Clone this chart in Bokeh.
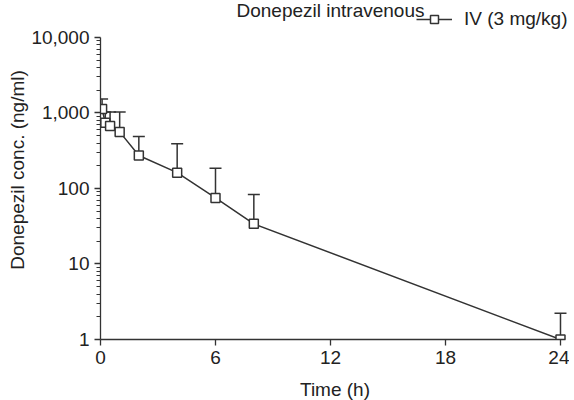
from bokeh.plotting import figure
from bokeh.models import (Range1d, FixedTicker, NumeralTickFormatter, Whisker,
                          TeeHead, ColumnDataSource, Label)
from bokeh.embed import file_html
from bokeh.resources import INLINE

# ---- data ----
time_h = [0.083, 0.25, 0.5, 1, 2, 4, 6, 8, 24]
conc_mean = [1130, 740, 675, 562, 274, 162, 75, 34, 1.0]
conc_upper = [1530, 1030, 1030, 1030, 488, 391, 185, 83, 2.22]
series_label = "IV (3 mg/kg)"
title_text = "Donepezil intravenous"
x_ticks = [0, 6, 12, 18, 24]
y_ticks = [1, 10, 100, 1000, 10000]
y_minor = [m * 10 ** k for k in range(4) for m in range(2, 10)]

FONT = "Liberation Sans"
FS = "19px"
INK = "#333333"
TXT = "#222222"

src = ColumnDataSource(dict(t=time_h, mean=conc_mean, upper=conc_upper))

p = figure(frame_width=469, frame_height=339,
           x_range=Range1d(0, 24.47), y_range=Range1d(1, 30900),
           y_axis_type="log", output_backend="svg", toolbar_location=None,
           min_border_left=100, min_border_top=0, min_border_right=0,
           min_border_bottom=0)
p.outline_line_color = None
p.xgrid.visible = False
p.ygrid.visible = False
p.background_fill_color = "white"

wh = Whisker(source=src, base="t", upper="upper", lower="mean",
             dimension="height", line_color=INK, line_width=1.5,
             upper_head=TeeHead(size=12, line_color=INK, line_width=1.5),
             lower_head=None, level="underlay")
p.add_layout(wh)

p.line("t", "mean", source=src, line_color=INK, line_width=1.5,
       legend_label=series_label)
p.scatter("t", "mean", source=src, marker="square", size=9,
          fill_color="white", line_color=INK, line_width=1.5,
          legend_label=series_label)

p.add_layout(Label(x=12, y=22790, text=title_text, text_align="center",
                   text_baseline="middle", text_font=FONT,
                   text_font_size=FS, text_color=TXT))

lg = p.legend[0]
lg.location = (316, 309)
lg.border_line_color = None
lg.background_fill_alpha = 0
lg.label_text_font = FONT
lg.label_text_font_size = FS
lg.label_text_color = TXT
lg.glyph_width = 36
lg.margin = 0
lg.padding = 0
lg.label_standoff = 12

for ax in (p.xaxis[0], p.yaxis[0]):
    ax.axis_line_color = INK
    ax.axis_line_width = 1.3
    ax.major_tick_line_color = INK
    ax.major_tick_line_width = 1.3
    ax.minor_tick_line_color = INK
    ax.minor_tick_line_width = 1.0
    ax.major_tick_out = 6
    ax.major_tick_in = 0
    ax.minor_tick_out = 4
    ax.minor_tick_in = 0
    ax.major_label_text_font = FONT
    ax.major_label_text_font_size = FS
    ax.major_label_text_color = TXT
    ax.axis_label_text_font = FONT
    ax.axis_label_text_font_size = FS
    ax.axis_label_text_color = TXT
    ax.axis_label_text_font_style = "normal"

xa = p.xaxis[0]
xa.ticker = FixedTicker(ticks=x_ticks)
xa.minor_tick_line_color = None
xa.bounds = (0, 24.26)
xa.axis_label = "Time (h)"
xa.major_label_standoff = 5
xa.axis_label_standoff = 12

ya = p.yaxis[0]
ya.ticker = FixedTicker(ticks=y_ticks, minor_ticks=y_minor)
ya.formatter = NumeralTickFormatter(format="0,0")
ya.bounds = (1, 10000)
ya.axis_label = "Donepezil conc. (ng/ml)"
ya.major_label_standoff = 5
ya.axis_label_standoff = 0

open("out.html", "w").write(file_html(p, INLINE))
